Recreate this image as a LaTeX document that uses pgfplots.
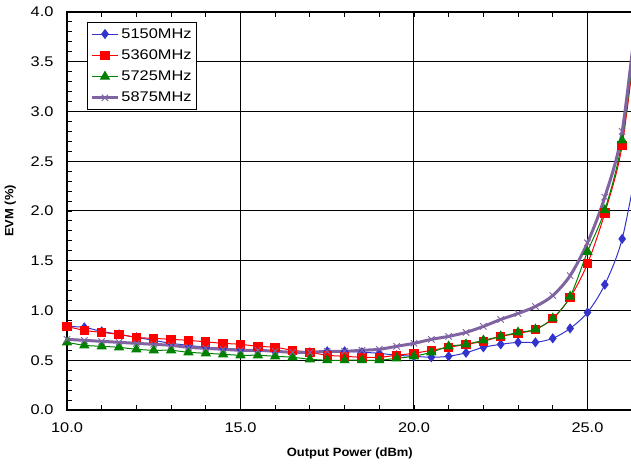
\documentclass[border=0pt]{standalone}
\usepackage{pgfplots}
\pgfplotsset{compat=1.18}
\usepackage{pgfplotstable}
\usepackage{graphicx}
\usepackage{fontspec}
\setmainfont{Liberation Sans}

\definecolor{cblue}{RGB}{51,51,204}
\definecolor{cred}{RGB}{255,0,0}
\definecolor{cgreen}{RGB}{0,128,0}
\definecolor{cpurple}{RGB}{128,100,162}

% the text of the original chart is drawn a little wide
\newcommand{\wide}[1]{\scalebox{1.17}[1]{#1}}

% EVM (%) against output power (dBm)
\pgfplotstableread{
x    b     r     g     p
10.0 0.84  0.84  0.68  0.71
10.5 0.83  0.80  0.65  0.70
11.0 0.79  0.78  0.64  0.69
11.5 0.76  0.76  0.63  0.68
12.0 0.73  0.73  0.61  0.67
12.5 0.70  0.72  0.60  0.66
13.0 0.67  0.71  0.60  0.65
13.5 0.65  0.70  0.58  0.63
14.0 0.63  0.685 0.57  0.62
14.5 0.62  0.67  0.56  0.61
15.0 0.61  0.66  0.55  0.60
15.5 0.60  0.64  0.55  0.60
16.0 0.59  0.63  0.54  0.59
16.5 0.58  0.60  0.53  0.58
17.0 0.58  0.58  0.51  0.58
17.5 0.59  0.55  0.50  0.59
18.0 0.59  0.54  0.50  0.59
18.5 0.58  0.53  0.50  0.60
19.0 0.57  0.53  0.50  0.61
19.5 0.55  0.55  0.52  0.64
20.0 0.54  0.57  0.54  0.67
20.5 0.53  0.60  0.58  0.71
21.0 0.54  0.63  0.64  0.74
21.5 0.575 0.66  0.66  0.78
22.0 0.63  0.69  0.70  0.84
22.5 0.66  0.74  0.74  0.91
23.0 0.68  0.77  0.78  0.97
23.5 0.68  0.81  0.81  1.04
24.0 0.72  0.92  0.92  1.15
24.5 0.82  1.13  1.14  1.35
25.0 0.98  1.47  1.59  1.68
25.5 1.26  1.98  2.01  2.14
26.0 1.72  2.66  2.71  2.80
26.5 2.60  4.05  4.10  4.25
}\evmdata

\begin{document}
\begin{tikzpicture}[x=1pt,y=1pt]
\path[use as bounding box] (-67,-58) rectangle (564,410);
\clip (-67,-58) rectangle (564,410);
\begin{axis}[
  at={(0,0)}, anchor=south west,
  scale only axis, width=572.5pt, height=398pt,
  xmin=10, xmax=26.5, ymin=0, ymax=4,
  xtick={10,15,20,25}, ytick={0,0.5,...,4},
  minor x tick num=4, minor y tick num=4,
  grid=major, major grid style={black, line width=1pt},
  axis line style={black, line width=1.8pt},
  tick style={black, line width=0.9pt},
  tick align=inside, minor tick length=5pt, major tick length=5pt,
  /pgf/number format/assume math mode=true,
  /pgf/number format/fixed, /pgf/number format/fixed zerofill,
  /pgf/number format/precision=1,
  ticklabel style={font=\fontsize{14}{16}\selectfont, xscale=1.17},
  xticklabel style={yshift=-9pt},
  yticklabel style={xshift=-8pt},
  xlabel={\scalebox{1.08}[1]{\textbf{Output Power (dBm)}}},
  ylabel={\scalebox{1.08}[1]{\textbf{EVM (\%)}}},
  label style={font=\fontsize{12}{14}\selectfont},
  xlabel style={at={(axis description cs:0.494,-0.11)}, anchor=center},
  ylabel style={at={(axis description cs:-0.099,0.5)}, anchor=center},
  legend style={at={(axis description cs:0.035,0.975)}, anchor=north west,
    draw=black, line width=0.9pt, fill=white,
    font=\fontsize{14}{16}\selectfont, row sep=6pt,
    inner xsep=3pt, inner ysep=4pt},
  legend cell align=left,
  legend image code/.code={\draw[mark repeat=2, mark phase=2, #1]
    plot coordinates {(0pt,0pt) (13pt,0pt) (26pt,0pt)};},
]
\addplot[cblue, line width=1pt, smooth, mark=diamond*, mark size=4.3pt,
  mark options={solid, fill=cblue}] table[x=x, y=b] {\evmdata};
\addlegendentry{\wide{5150MHz}}
\addplot[cred, line width=1pt, smooth, mark=square*, mark size=4.2pt,
  mark options={solid, fill=cred}] table[x=x, y=r] {\evmdata};
\addlegendentry{\wide{5360MHz}}
\addplot[cgreen, line width=1pt, smooth, mark=triangle*, mark size=5pt,
  mark options={solid, fill=cgreen}] table[x=x, y=g] {\evmdata};
\addlegendentry{\wide{5725MHz}}
\addplot[cpurple, line width=3pt, smooth, mark=x, mark size=4.5pt,
  mark options={solid, line width=0.9pt}] table[x=x, y=p] {\evmdata};
\addlegendentry{\wide{5875MHz}}
\end{axis}
\end{tikzpicture}
\end{document}
